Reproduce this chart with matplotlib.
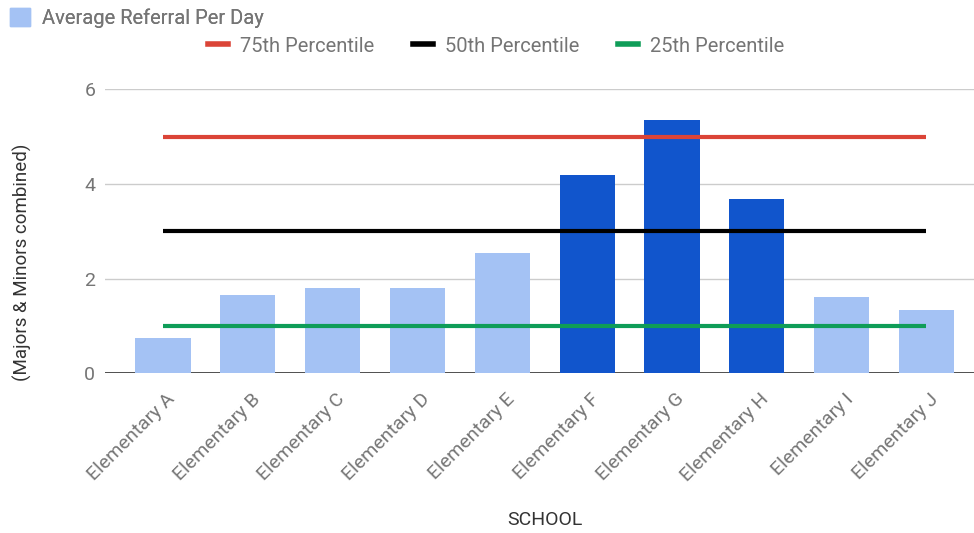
import matplotlib
matplotlib.use("Agg")
import matplotlib.pyplot as plt
import matplotlib.transforms as mtransforms
from matplotlib.patches import Patch
from matplotlib.lines import Line2D

schools = ["Elementary A", "Elementary B", "Elementary C", "Elementary D", "Elementary E",
           "Elementary F", "Elementary G", "Elementary H", "Elementary I", "Elementary J"]
avg_referral = [0.74, 1.65, 1.80, 1.80, 2.54, 4.18, 5.35, 3.68, 1.62, 1.34]
highlight = [False, False, False, False, False, True, True, True, False, False]
p75 = [5.0] * 10
p50 = [3.0] * 10
p25 = [1.0] * 10
yticks = [0, 2, 4, 6]

LIGHT = "#a4c2f4"
DARK = "#1155cc"
RED = "#db4437"
GREEN = "#0f9d58"
TXT = "#757575"

plt.rcParams['font.family'] = ['Roboto', 'DejaVu Sans']

fig = plt.figure(figsize=(9.74, 5.33), dpi=100)
ax = fig.add_axes([105/974, 1-373.3/533, 1-105/974, (373.3-89.3)/533])

x = list(range(len(schools)))
colors = [DARK if h else LIGHT for h in highlight]
ax.axhline(0, color="#333333", lw=1.2, zorder=1)
ax.bar(x, avg_referral, width=0.65, color=colors, zorder=2)
ax.plot(x, p75, color=RED, lw=3, zorder=3, solid_capstyle='butt')
ax.plot(x, p50, color="black", lw=3, zorder=3, solid_capstyle='butt')
ax.plot(x, p25, color=GREEN, lw=3, zorder=3, solid_capstyle='butt')

ax.set_xlim(-0.684, 9.56)
ax.set_ylim(0, 6)
ax.set_yticks(yticks)
ax.set_yticklabels([str(v) for v in yticks], color=TXT, fontsize=14)
ax.grid(axis='y', color="#cccccc", lw=1, zorder=0)
ax.set_axisbelow(True)
for s in ax.spines.values():
    s.set_visible(False)
ax.tick_params(axis='both', length=0)
ax.tick_params(axis='y', pad=7)
ax.set_xticks(x)
ax.set_xticklabels(schools, rotation=45, ha='right', rotation_mode='anchor',
                   color=TXT, fontsize=14)
ax.tick_params(axis='x', pad=12)
offset = mtransforms.ScaledTranslation(3/100, 0, fig.dpi_scale_trans)
for lbl in ax.get_xticklabels():
    lbl.set_transform(lbl.get_transform() + offset)

fig.text(545/974, 1-520/533, "SCHOOL", ha='center', va='center', color="#333333", fontsize=14)
fig.text(22/974, 1-262/533, "(Majors & Minors combined)", rotation=90,
         ha='center', va='center', color="#333333", fontsize=13.5)

leg1 = fig.legend(handles=[Patch(color=LIGHT, label="Average Referral Per Day")],
                  loc='center left', bbox_to_anchor=(0.004, 1-18/533), frameon=False,
                  fontsize=14.5, labelcolor=TXT, handlelength=1.0, handleheight=1.0,
                  handletextpad=0.6, borderaxespad=0, borderpad=0.3)
fig.add_artist(leg1)
fig.legend(handles=[Line2D([], [], color=RED, lw=4, label="75th Percentile"),
                    Line2D([], [], color="black", lw=4, label="50th Percentile"),
                    Line2D([], [], color=GREEN, lw=4, label="25th Percentile")],
           loc='center', bbox_to_anchor=(496/974, 1-46/533), ncol=3, frameon=False,
           fontsize=14.5, labelcolor=TXT, handlelength=1.0, handletextpad=0.6,
           columnspacing=1.9, borderaxespad=0)

fig.savefig("out.png", dpi=100)
